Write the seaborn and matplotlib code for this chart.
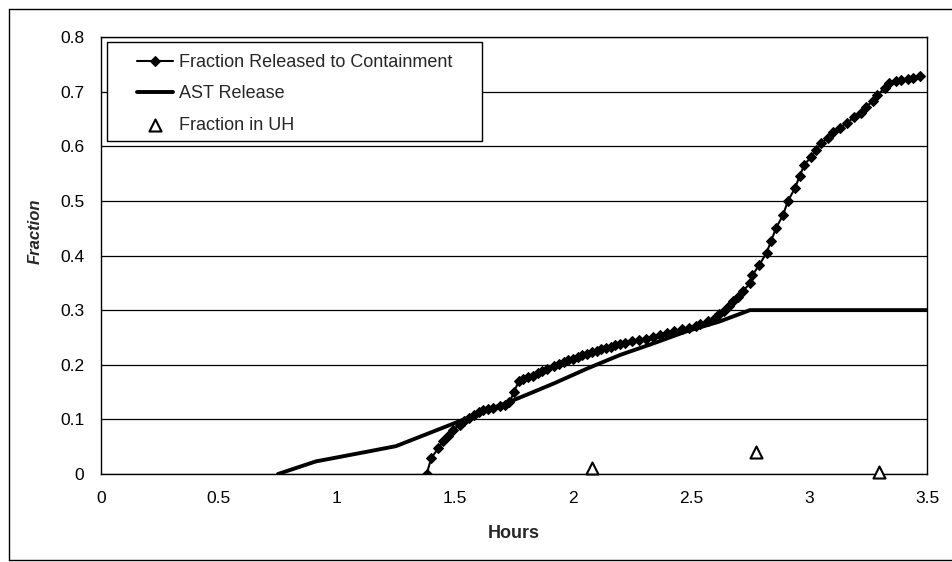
import matplotlib
matplotlib.use("Agg")
import matplotlib.pyplot as plt
from matplotlib.lines import Line2D
from matplotlib.patches import Rectangle
import seaborn as sns
import pandas as pd

# Fraction released to containment (hours, fraction)
released_hours = [1.38, 1.40, 1.43, 1.45, 1.47, 1.49, 1.52, 1.54, 1.56, 1.58,
                  1.60, 1.62, 1.64, 1.66, 1.69, 1.71, 1.73, 1.75, 1.77, 1.79,
                  1.81, 1.83, 1.85, 1.87, 1.89, 1.92, 1.94, 1.96, 1.98, 2.00,
                  2.02, 2.04, 2.06, 2.08, 2.10, 2.12, 2.14, 2.16, 2.18, 2.20,
                  2.22, 2.25, 2.28, 2.31, 2.34, 2.37, 2.40, 2.43, 2.46, 2.49,
                  2.52, 2.54, 2.57, 2.60, 2.62, 2.64, 2.66, 2.68, 2.70, 2.72,
                  2.75, 2.76, 2.79, 2.82, 2.84, 2.86, 2.89, 2.91, 2.94, 2.96,
                  2.98, 3.01, 3.03, 3.05, 3.08, 3.10, 3.13, 3.16, 3.19, 3.22,
                  3.24, 3.27, 3.29, 3.32, 3.34, 3.37, 3.39, 3.42, 3.44, 3.47]
released_frac = [0.000, 0.030, 0.047, 0.061, 0.070, 0.081, 0.090, 0.097, 0.102, 0.108,
                 0.113, 0.117, 0.119, 0.121, 0.124, 0.127, 0.131, 0.150, 0.170, 0.174,
                 0.177, 0.180, 0.184, 0.188, 0.192, 0.197, 0.201, 0.205, 0.208, 0.211,
                 0.214, 0.217, 0.220, 0.223, 0.226, 0.228, 0.231, 0.233, 0.236, 0.238,
                 0.240, 0.243, 0.245, 0.248, 0.251, 0.254, 0.258, 0.262, 0.265, 0.268,
                 0.271, 0.275, 0.280, 0.286, 0.292, 0.298, 0.307, 0.316, 0.324, 0.335,
                 0.349, 0.364, 0.383, 0.405, 0.427, 0.450, 0.474, 0.499, 0.523, 0.545,
                 0.566, 0.581, 0.593, 0.606, 0.615, 0.627, 0.633, 0.642, 0.653, 0.660,
                 0.672, 0.682, 0.694, 0.706, 0.715, 0.719, 0.721, 0.723, 0.725, 0.728]

# AST release
ast_hours = [0.75, 0.91, 1.13, 1.25, 1.48, 1.62, 1.73, 1.82, 1.92, 2.06,
             2.20, 2.34, 2.48, 2.62, 2.75, 3.50]
ast_frac = [0.000, 0.023, 0.041, 0.051, 0.090, 0.114, 0.132, 0.148, 0.166, 0.193,
            0.218, 0.239, 0.261, 0.279, 0.300, 0.300]

# Fraction in upper head
uh_hours = [2.08, 2.775, 3.297]
uh_frac = [0.011, 0.040, 0.004]

x_ticks = [0, 0.5, 1, 1.5, 2, 2.5, 3, 3.5]
x_tick_labels = ["0", "0.5", "1", "1.5", "2", "2.5", "3", "3.5"]
y_ticks = [0, 0.1, 0.2, 0.3, 0.4, 0.5, 0.6, 0.7, 0.8]
y_tick_labels = ["0", "0.1", "0.2", "0.3", "0.4", "0.5", "0.6", "0.7", "0.8"]

released = pd.DataFrame({"Hours": released_hours, "Fraction": released_frac})
ast = pd.DataFrame({"Hours": ast_hours, "Fraction": ast_frac})
uh = pd.DataFrame({"Hours": uh_hours, "Fraction": uh_frac})

sns.set_style("white")
plt.rcParams["font.family"] = ["Liberation Sans", "DejaVu Sans"]

fig = plt.figure(figsize=(9.53, 5.62), dpi=100)
ax = fig.add_axes([101 / 953, 1 - 474 / 562, 826 / 953, 437 / 562])

sns.lineplot(data=released, x="Hours", y="Fraction", ax=ax, sort=False,
             estimator=None, color="black", linewidth=1.5, marker="D",
             markersize=5.5, markeredgecolor="black",
             label="Fraction Released to Containment", zorder=4)
sns.lineplot(data=ast, x="Hours", y="Fraction", ax=ax, sort=False,
             estimator=None, color="black", linewidth=2.8,
             label="AST Release", zorder=3)
sns.scatterplot(data=uh, x="Hours", y="Fraction", ax=ax, marker="^",
                s=75, facecolor="white", edgecolor="black", linewidth=1.5,
                label="Fraction in UH", zorder=5, clip_on=False)

ax.set_xlim(0, 3.5)
ax.set_ylim(0, 0.8)
ax.set_xticks(x_ticks)
ax.set_xticklabels(x_tick_labels)
ax.set_yticks(y_ticks)
ax.set_yticklabels(y_tick_labels)
ax.tick_params(axis="both", direction="out", length=5, width=1, color="black",
               labelsize=12.5, labelcolor="black", pad=7)
ax.yaxis.grid(True, color="black", linewidth=0.9)
ax.xaxis.grid(False)
ax.set_axisbelow(True)
for side in ["left", "bottom", "right", "top"]:
    ax.spines[side].set_visible(True)
    ax.spines[side].set_color("black")
    ax.spines[side].set_linewidth(1.0)

ax.set_xlabel("Hours", fontsize=13, fontweight="bold")
ax.xaxis.set_label_coords(0.5, -0.117)
ax.set_ylabel("Fraction", fontsize=12, fontweight="bold", style="italic")
ax.yaxis.set_label_coords(-0.07, 0.556)

# Legend box, with the entries inset from its left edge
ax.add_patch(Rectangle((6 / 826, (474 - 141) / 437), 375 / 826, 99 / 437,
                       transform=ax.transAxes, facecolor="white",
                       edgecolor="black", linewidth=1.0, zorder=6))
leg = ax.legend(loc="upper left", bbox_to_anchor=(36 / 826, (474 - 54) / 437),
                fontsize=13, frameon=False, handlelength=2.0,
                handletextpad=0.3, labelspacing=0.8, borderpad=0,
                borderaxespad=0)
leg.set_zorder(7)

# Outer chart frame
frame_kw = dict(transform=fig.transFigure, color="black", linewidth=1.0)
fig.add_artist(Line2D([9 / 953, 9 / 953], [1 - 9 / 562, 1 - 560 / 562], **frame_kw))
fig.add_artist(Line2D([9 / 953, 1.0], [1 - 9 / 562, 1 - 9 / 562], **frame_kw))
fig.add_artist(Line2D([9 / 953, 1.0], [1 - 560 / 562, 1 - 560 / 562], **frame_kw))

fig.savefig("out.png", dpi=100, facecolor="white")
